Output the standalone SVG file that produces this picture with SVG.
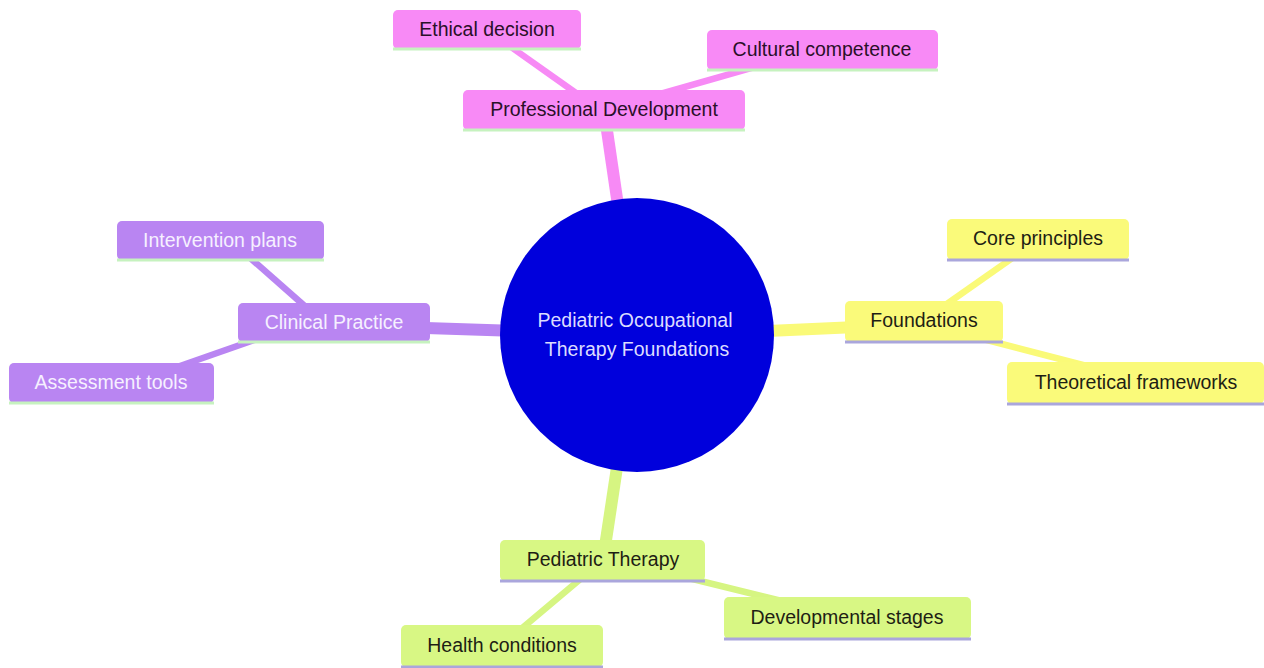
<svg xmlns="http://www.w3.org/2000/svg" width="1264" height="668" viewBox="0 0 1264 668">
<style>
  text { font-family: "Liberation Sans", Arial, sans-serif; font-size: 19.5px; text-anchor: middle; dominant-baseline: central; }
  .e { fill: none; stroke-linecap: butt; }
  .main { stroke-width: 12; }
  .sub { stroke-width: 6.5; }
  .pk { stroke: #f78af5; }
  .pu { stroke: #b985f2; }
  .ye { stroke: #fafa78; }
  .gr { stroke: #d6f582; }
  .box { rx: 5; ry: 5; }
  .fpk { fill: #f88af6; }
  .fpu { fill: #b985f2; }
  .fye { fill: #fafa7a; }
  .fgr { fill: #d8f784; }
  .lgreen { stroke: #c6f2bf; stroke-width: 3; }
  .llav { stroke: #aaa6dc; stroke-width: 3; }
  .tdark { fill: #2a1028; }
  .tlight { fill: #f6f0ff; }
  .tblk { fill: #1e1e14; }
</style>
<rect width="1264" height="668" fill="#ffffff"/>
<g id="connectors">
  <line class="e main pk" x1="604" y1="110" x2="637" y2="335"/>
  <line class="e main pu" x1="334" y1="325" x2="637" y2="335"/>
  <line class="e main ye" x1="637" y1="337" x2="924" y2="324"/>
  <line class="e main gr" x1="637" y1="335" x2="603" y2="560"/>
  <line class="e sub pk" x1="487" y1="30" x2="600" y2="110"/>
  <line class="e sub pk" x1="822" y1="48" x2="604" y2="110"/>
  <line class="e sub pu" x1="231" y1="241" x2="324" y2="323"/>
  <line class="e sub pu" x1="120" y1="387" x2="320" y2="317"/>
  <line class="e sub ye" x1="1038" y1="240" x2="924" y2="320"/>
  <line class="e sub ye" x1="960" y1="333" x2="1110" y2="372"/>
  <line class="e sub gr" x1="603" y1="560" x2="502" y2="645"/>
  <line class="e sub gr" x1="603" y1="557" x2="847" y2="617"/>
</g>
<g id="root">
  <circle cx="637" cy="335" r="137" fill="#0000dc"/>
  <text x="635" y="320" fill="#dcdcff">Pediatric Occupational</text>
  <text x="637" y="349" fill="#dcdcff">Therapy Foundations</text>
</g>
<g id="professional-development">
  <rect class="box fpk" x="463" y="90" width="282" height="40"/>
  <line class="lgreen" x1="463" y1="130" x2="745" y2="130"/>
  <text class="tdark" x="604" y="109">Professional Development</text>
</g>
<g id="ethical-decision">
  <rect class="box fpk" x="393" y="10" width="188" height="39"/>
  <line class="lgreen" x1="393" y1="49" x2="581" y2="49"/>
  <text class="tdark" x="487" y="29">Ethical decision</text>
</g>
<g id="cultural-competence">
  <rect class="box fpk" x="707" y="30" width="231" height="40"/>
  <line class="lgreen" x1="707" y1="70" x2="938" y2="70"/>
  <text class="tdark" x="822" y="49">Cultural competence</text>
</g>
<g id="clinical-practice">
  <rect class="box fpu" x="238" y="303" width="192" height="39"/>
  <line class="lgreen" x1="238" y1="342" x2="430" y2="342"/>
  <text class="tlight" x="334" y="322">Clinical Practice</text>
</g>
<g id="intervention-plans">
  <rect class="box fpu" x="117" y="221" width="207" height="39"/>
  <line class="lgreen" x1="117" y1="260" x2="324" y2="260"/>
  <text class="tlight" x="220" y="240">Intervention plans</text>
</g>
<g id="assessment-tools">
  <rect class="box fpu" x="9" y="363" width="205" height="40"/>
  <line class="lgreen" x1="9" y1="403" x2="214" y2="403"/>
  <text class="tlight" x="111" y="382">Assessment tools</text>
</g>
<g id="foundations">
  <rect class="box fye" x="845" y="301" width="158" height="41"/>
  <line class="llav" x1="845" y1="342" x2="1003" y2="342"/>
  <text class="tblk" x="924" y="320">Foundations</text>
</g>
<g id="core-principles">
  <rect class="box fye" x="947" y="219" width="182" height="41"/>
  <line class="llav" x1="947" y1="260" x2="1129" y2="260"/>
  <text class="tblk" x="1038" y="238">Core principles</text>
</g>
<g id="theoretical-frameworks">
  <rect class="box fye" x="1007" y="362" width="257" height="42"/>
  <line class="llav" x1="1007" y1="404" x2="1264" y2="404"/>
  <text class="tblk" x="1136" y="382">Theoretical frameworks</text>
</g>
<g id="pediatric-therapy">
  <rect class="box fgr" x="500" y="540" width="205" height="41"/>
  <line class="llav" x1="500" y1="581" x2="705" y2="581"/>
  <text class="tblk" x="603" y="559">Pediatric Therapy</text>
</g>
<g id="developmental-stages">
  <rect class="box fgr" x="724" y="597" width="247" height="42"/>
  <line class="llav" x1="724" y1="639" x2="971" y2="639"/>
  <text class="tblk" x="847" y="617">Developmental stages</text>
</g>
<g id="health-conditions">
  <rect class="box fgr" x="401" y="625" width="202" height="42"/>
  <line class="llav" x1="401" y1="667" x2="603" y2="667"/>
  <text class="tblk" x="502" y="645">Health conditions</text>
</g>
</svg>
